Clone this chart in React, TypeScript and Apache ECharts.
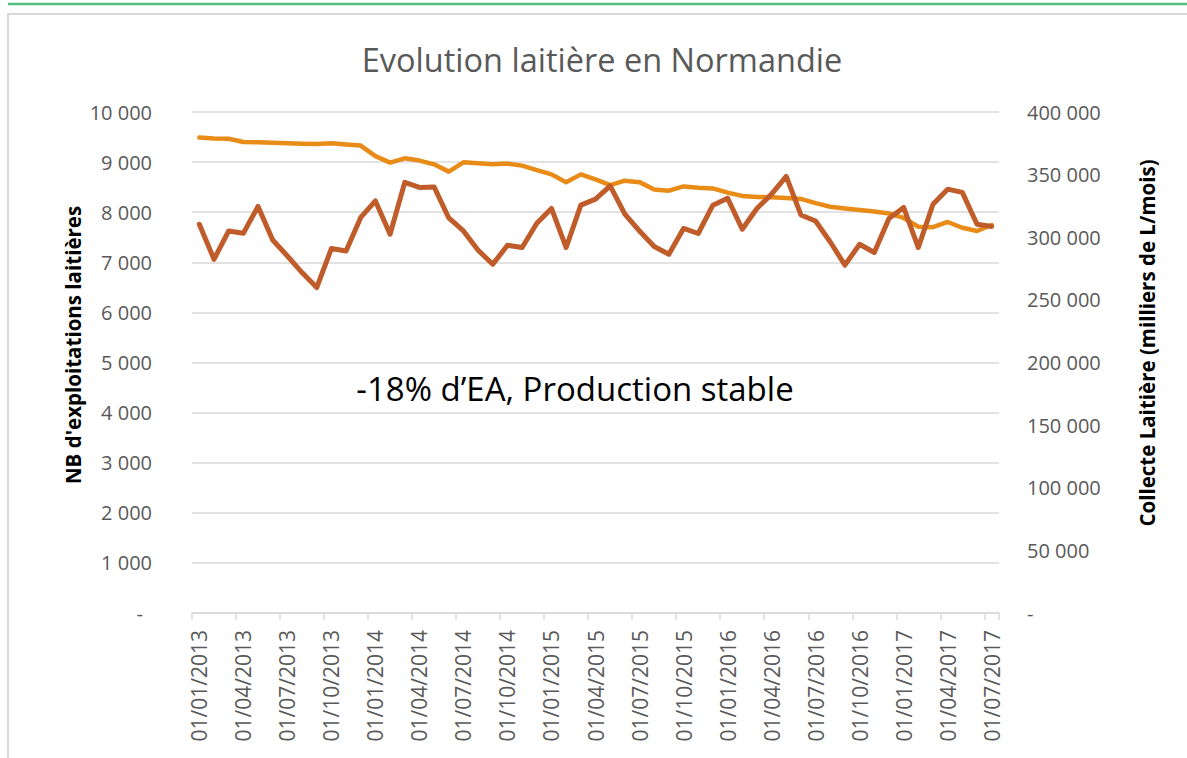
import React, { useEffect, useRef } from "react";
import * as echarts from "echarts";

const categories = [
  "01/01/2013","01/02/2013","01/03/2013","01/04/2013","01/05/2013","01/06/2013","01/07/2013","01/08/2013","01/09/2013","01/10/2013","01/11/2013","01/12/2013",
  "01/01/2014","01/02/2014","01/03/2014","01/04/2014","01/05/2014","01/06/2014","01/07/2014","01/08/2014","01/09/2014","01/10/2014","01/11/2014","01/12/2014",
  "01/01/2015","01/02/2015","01/03/2015","01/04/2015","01/05/2015","01/06/2015","01/07/2015","01/08/2015","01/09/2015","01/10/2015","01/11/2015","01/12/2015",
  "01/01/2016","01/02/2016","01/03/2016","01/04/2016","01/05/2016","01/06/2016","01/07/2016","01/08/2016","01/09/2016","01/10/2016","01/11/2016","01/12/2016",
  "01/01/2017","01/02/2017","01/03/2017","01/04/2017","01/05/2017","01/06/2017","01/07/2017",
];

// Nombre d'exploitations laitières (axe gauche)
const nbExploitations = [
  9490, 9470, 9465, 9400, 9395, 9385, 9375, 9365, 9360, 9375, 9350, 9330,
  9120, 8990, 9075, 9030, 8955, 8810, 8995, 8975, 8955, 8970, 8930, 8840,
  8755, 8600, 8755, 8655, 8540, 8630, 8600, 8455, 8430, 8515, 8490, 8475,
  8390, 8325, 8305, 8300, 8285, 8265, 8180, 8110, 8075, 8045, 8015, 7975,
  7885, 7710, 7700, 7805, 7690, 7625, 7745,
];

// Collecte laitière (milliers de L/mois) (axe droit)
const collecte = [
  310400, 282400, 305000, 303200, 324600, 297800, 285000, 271800, 259800, 291000, 289000, 315800,
  329000, 302400, 343800, 339800, 340200, 315400, 305000, 289600, 278400, 293600, 291800, 311200,
  323000, 291800, 325600, 330400, 341000, 318400, 305000, 292600, 286400, 307000, 303000, 325600,
  331200, 306400, 323000, 334400, 348600, 317800, 313000, 296200, 277800, 294400, 287800, 315000,
  323800, 291800, 326400, 338400, 335800, 310400, 308600,
];

const FONT = "'Open Sans', 'Noto Sans', sans-serif";

function fmt(v: number): string {
  if (v === 0) return "-";
  return String(v).replace(/\B(?=(\d{3})+(?!\d))/g, " ");
}

export default function App() {
  const ref = useRef<HTMLDivElement>(null);
  useEffect(() => {
    if (!ref.current) return;
    const chart = echarts.init(ref.current, undefined, { renderer: "svg" });
    chart.setOption({
      animation: false,
      backgroundColor: "#ffffff",
      grid: { left: 192, right: 188, top: 112, bottom: 145, containLabel: false },
      xAxis: {
        type: "category",
        data: categories,
        boundaryGap: true,
        axisLine: { show: true, lineStyle: { color: "#d9d9d9", width: 1.5 } },
        axisTick: { show: true, interval: 2, length: 7, lineStyle: { color: "#d9d9d9", width: 1.5 } },
        axisLabel: {
          interval: 2,
          rotate: 90,
          fontSize: 21,
          color: "#595959",
          fontFamily: FONT,
          margin: 17,
        },
        splitLine: { show: false },
      },
      yAxis: [
        {
          type: "value",
          min: 0,
          max: 10000,
          interval: 1000,
          axisLine: { show: false },
          axisTick: { show: false },
          splitLine: { show: true, lineStyle: { color: "#d9d9d9", width: 1.5 } },
          axisLabel: {
            margin: 40,
            fontSize: 20,
            color: "#595959",
            fontFamily: FONT,
            formatter: (v: number) => (v === 0 ? "{d|-}" : fmt(v)),
            rich: { d: { fontSize: 20, color: "#595959", fontFamily: FONT, padding: [0, 9, 0, 0] } },
          },
        },
        {
          type: "value",
          position: "right",
          min: 0,
          max: 400000,
          interval: 50000,
          axisLine: { show: false },
          axisTick: { show: false },
          splitLine: { show: false },
          axisLabel: {
            margin: 28,
            fontSize: 20,
            color: "#595959",
            fontFamily: FONT,
            formatter: (v: number) => fmt(v),
          },
        },
      ],
      series: [
        {
          name: "NB d'exploitations laitières",
          type: "line",
          yAxisIndex: 0,
          data: nbExploitations,
          showSymbol: false,
          symbol: "none",
          lineStyle: { color: "#E98B17", width: 4.5, cap: "round", join: "round" },
          itemStyle: { color: "#E98B17" },
        },
        {
          name: "Collecte Laitière",
          type: "line",
          yAxisIndex: 1,
          data: collecte,
          showSymbol: false,
          symbol: "none",
          lineStyle: { color: "#C05B2A", width: 5, cap: "round", join: "round" },
          itemStyle: { color: "#C05B2A" },
        },
      ],
      graphic: [
        {
          type: "line",
          shape: { x1: 8, y1: 4, x2: 1187, y2: 4 },
          style: { stroke: "#52BE80", lineWidth: 2.5 },
        },
        {
          type: "rect",
          shape: { x: 8, y: 14, width: 1200, height: 780 },
          style: { fill: "none", stroke: "#d9d9d9", lineWidth: 2 },
        },
        {
          type: "text",
          x: 602,
          y: 59,
          style: {
            text: "Evolution laitière en Normandie",
            fontSize: 32.5,
            fontFamily: FONT,
            fill: "#595959",
            align: "center",
            verticalAlign: "middle",
          },
        },
        {
          type: "text",
          x: 575,
          y: 388,
          style: {
            text: "-18% d\u2019EA, Production stable",
            fontSize: 33,
            fontFamily: FONT,
            fill: "#000000",
            align: "center",
            verticalAlign: "middle",
          },
        },
        {
          type: "text",
          x: 73,
          y: 345,
          rotation: Math.PI / 2,
          style: {
            text: "NB d'exploitations laitières",
            fontSize: 20.5,
            fontWeight: "bold",
            fontFamily: FONT,
            fill: "#000000",
            align: "center",
            verticalAlign: "middle",
          },
        },
        {
          type: "text",
          x: 1147,
          y: 343,
          rotation: Math.PI / 2,
          style: {
            text: "Collecte Laitière (milliers de L/mois)",
            fontSize: 20.5,
            fontWeight: "bold",
            fontFamily: FONT,
            fill: "#000000",
            align: "center",
            verticalAlign: "middle",
          },
        },
      ],
    });
    return () => chart.dispose();
  }, []);
  return (
    <div
      ref={ref}
      style={{ position: "absolute", left: 0, top: 0, width: 1187, height: 758, background: "#fff" }}
    />
  );
}
